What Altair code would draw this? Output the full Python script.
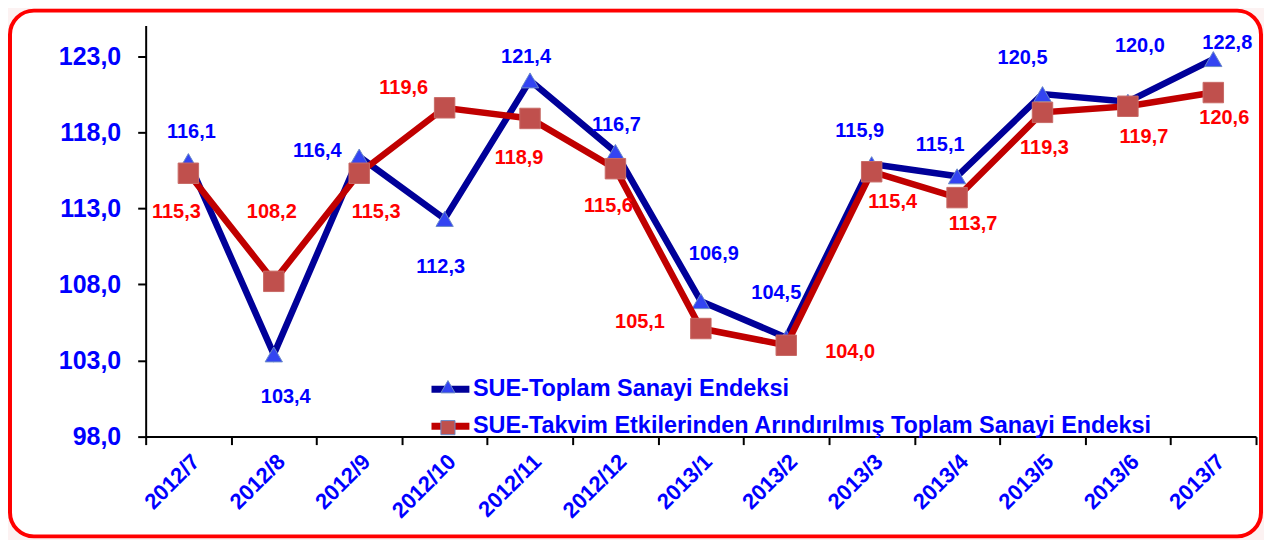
import altair as alt
import pandas as pd

MONTHS = ["2012/7", "2012/8", "2012/9", "2012/10", "2012/11", "2012/12", "2013/1",
          "2013/2", "2013/3", "2013/4", "2013/5", "2013/6", "2013/7"]
TOPLAM = [116.1, 103.4, 116.4, 112.3, 121.4, 116.7, 106.9, 104.5, 115.9, 115.1, 120.5, 120.0, 122.8]
TAKVIM = [115.3, 108.2, 115.3, 119.6, 118.9, 115.6, 105.1, 104.0, 115.4, 113.7, 119.3, 119.7, 120.6]
SERIES = ["SUE-Toplam Sanayi Endeksi",
          "SUE-Takvim Etkilerinden Arındırılmış Toplam Sanayi Endeksi"]
MARKER_KEYS = ["toplam-marker", "takvim-marker"]
Y_TICKS = [98, 103, 108, 113, 118, 123]

# value-label placement (pixel offsets from each point)
TOPLAM_DX = [3, 12, -42, -4, -4, 1, 13, -10, -12, -17, -20, 12, 14]
TOPLAM_DY = [-29, 43, -6, 48, -23, -27, -47, -45, -33, -31, -36, -56, -16]
TAKVIM_DX = [-12, -2, 17, -41, -11, -7, -61, 64, 21, 16, 2, 16, 11]
TAKVIM_DY = [39, -69, 39, -20, 40, 37, -7, 7, 30, 26, 36, 31, 26]

W, H = 1113, 412
Y_MIN, Y_MAX = 98, 125
FONT = "Liberation Sans"
LINE_COLORS = ["#000099", "#C00000"]
MARK_COLORS = ["#3344F2", "#C0504D"]
TEXT_COLORS = ["#0000FF", "#FF0000"]
LEG_FS = 23.5

rows = []
for i, m in enumerate(MONTHS):
    rows.append(dict(month=m, value=TOPLAM[i], series=SERIES[0], marker=MARKER_KEYS[0],
                     dx=TOPLAM_DX[i], dy=TOPLAM_DY[i], tcolor=TEXT_COLORS[0]))
    rows.append(dict(month=m, value=TAKVIM[i], series=SERIES[1], marker=MARKER_KEYS[1],
                     dx=TAKVIM_DX[i], dy=TAKVIM_DY[i], tcolor=TEXT_COLORS[1]))
df = pd.DataFrame(rows)

x_enc = alt.X("month:N", sort=MONTHS,
              scale=alt.Scale(type="band", domain=MONTHS, paddingInner=0, paddingOuter=0),
              axis=alt.Axis(title=None, tickBand="extent", labelAngle=-45, zindex=2,
                            labelColor="#0000FF", labelFont=FONT, labelFontSize=22,
                            labelFontWeight="bold", labelPadding=6,
                            domainColor="black", domainWidth=2,
                            tickColor="black", tickWidth=2, tickSize=8, grid=False))
y_scale = alt.Scale(domain=[Y_MIN, Y_MAX], nice=False, zero=False)
y_axis = alt.Axis(title=None, values=Y_TICKS, grid=False, zindex=2,
                  labelExpr="replace(format(datum.value, '.1f'), '.', ',')",
                  labelColor="#0000FF", labelFont=FONT, labelFontSize=25,
                  labelFontWeight="bold", labelPadding=17,
                  domainColor="black", domainWidth=2,
                  tickColor="black", tickWidth=2, tickSize=8)
y_enc = alt.Y("value:Q", scale=y_scale, axis=y_axis)

stroke_enc = alt.Stroke("series:N", scale=alt.Scale(domain=SERIES, range=LINE_COLORS),
                        legend=alt.Legend(title=None, orient="none", legendX=283, legendY=342,
                                          zindex=2,
                                          symbolType="stroke", symbolSize=1444,
                                          symbolStrokeWidth=7, labelFont=FONT,
                                          labelFontSize=LEG_FS, labelFontWeight="bold",
                                          labelColor="#0000FF", labelLimit=900,
                                          labelOffset=0, rowPadding=0))
marker_legend = alt.Legend(title=None, orient="none", legendX=283, legendY=354,
                           zindex=3,
                           symbolSize=200, symbolOffset=12,
                           symbolStrokeWidth=1, labelFont=FONT,
                           labelFontSize=1, labelExpr="''",
                           labelOpacity=0, labelLimit=10,
                           labelOffset=0, rowPadding=22)
fill_enc = alt.Fill("marker:N", scale=alt.Scale(domain=MARKER_KEYS, range=MARK_COLORS),
                    legend=marker_legend)
shape_enc = alt.Shape("marker:N", scale=alt.Scale(domain=MARKER_KEYS, range=["triangle-up", "square"]),
                      legend=marker_legend)

base = alt.Chart(df)

frame = alt.Chart(pd.DataFrame({"k": [0]})).mark_rect(
    fill="white", stroke="#FF0000", strokeWidth=4, cornerRadius=24
).encode(x=alt.value(-136), x2=alt.value(1118), y=alt.value(-15), y2=alt.value(512))

layers = [frame]
for s, sz, st in zip(SERIES, [300, 420], ["#6A8AC8", "#C86A66"]):
    sub = base.transform_filter(alt.datum.series == s)
    layers.append(sub.mark_line(strokeWidth=6.5, strokeJoin="miter").encode(
        x=x_enc, y=y_enc, stroke=stroke_enc))
    layers.append(sub.mark_point(filled=True, size=sz, opacity=1, stroke=st,
                                 strokeWidth=1).encode(
        x=x_enc, y=y_enc, fill=fill_enc, shape=shape_enc))

labels = base.transform_calculate(
    label="replace(format(datum.value, '.1f'), '.', ',')",
    px=f"datum.dx + {W} / 26",
    ly=f"datum.value - datum.dy * {Y_MAX - Y_MIN} / {H}",
).mark_text(font=FONT, fontSize=20, fontWeight="bold", align="center", baseline="middle").encode(
    x=x_enc,
    y=alt.Y("ly:Q", scale=y_scale, axis=y_axis),
    xOffset=alt.XOffset("px:Q", scale=None),
    text="label:N",
    color=alt.Color("tcolor:N", scale=None),
)
layers.append(labels)

chart = alt.layer(*layers).properties(
    width=W, height=H,
    autosize=alt.AutoSizeParams(type="none"),
    padding={"left": 138, "top": 17, "right": 8, "bottom": 103},
    background="#FCF2F2",
).configure_view(stroke="transparent")

chart.save("out.html", embed_options={"renderer": "svg", "actions": False})
